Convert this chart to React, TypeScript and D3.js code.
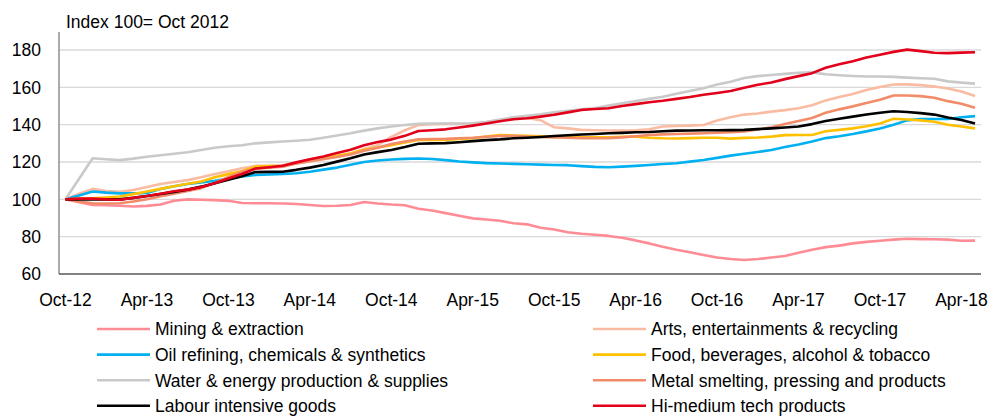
import React from "react";
import * as d3 from "d3";

const tickLabels = ["Oct-12","Apr-13","Oct-13","Apr-14","Oct-14","Apr-15","Oct-15","Apr-16","Oct-16","Apr-17","Oct-17","Apr-18"];
const yTicks = [60, 80, 100, 120, 140, 160, 180];

const mining = [100,98.5,97,96.8,96.6,96.2,96.5,97.2,99.2,100,99.8,99.6,99.2,98,97.9,97.9,97.8,97.5,97,96.4,96.6,97,98.6,97.8,97.2,96.8,95,94,92.6,91.2,89.8,89.2,88.5,87.2,86.6,84.8,83.8,82.4,81.6,81,80.4,79.4,78,76.4,74.6,73,71.6,70.2,68.8,68,67.5,68,68.8,69.6,71.4,73,74.4,75.2,76.4,77.2,77.8,78.4,78.9,78.7,78.6,78.4,77.8,77.9];
const arts = [100,103,105.6,104.5,104,105,106.6,108.2,109.3,110.3,111.8,113.6,115,116.6,117.9,117.9,118,119.2,120.4,121.5,123,124.6,127,129,133.4,137,139.8,140.2,140.4,140.4,140.6,141.4,142.6,143.8,143.6,142.4,138.6,138,137.2,137,136.9,136.8,137,137.5,139,139.3,139.5,139.8,142.2,144,145.4,146,147,147.8,148.8,150.4,153,154.8,156.4,158.6,160.2,161.5,161.6,161.2,160.4,159.4,157.8,155.4];
const oil = [100,102,104.2,103.6,103.2,103.2,103.4,105.5,107,108.2,109,110,111.2,112.2,113,113.3,113.6,114,114.8,115.9,117,118.5,120,120.8,121.3,121.7,121.9,121.6,121,120.3,119.8,119.4,119.2,119,118.8,118.6,118.4,118.3,117.8,117.4,117.2,117.5,117.9,118.4,118.9,119.3,120.2,121.1,122.2,123.4,124.4,125.4,126.4,128,129.4,131,132.8,133.8,135,136.4,138,140,142.3,143,143,143,144,144.6];
const food = [100,100.3,100.5,101,101.5,102.8,104.2,105.6,107,108.3,109.6,111.8,113.5,115,117.4,117.8,118,119.5,120.8,122,123.3,124.6,126.6,127.8,129,130.4,131.8,131.8,131.8,132.3,132.7,133.6,134.5,134.2,134,133.8,133.6,133.4,133.2,133.2,133.2,133.5,133.6,133,132.7,132.6,132.8,133,133,132.5,132.9,133.1,133.6,134.4,134.5,134.5,136.5,137.2,138,139.2,140.6,143.2,142.8,142.3,141.6,140,139,138];
const water = [100,111,122,121.5,121,121.8,122.8,123.6,124.4,125.2,126.4,127.6,128.4,129,130,130.5,131,131.4,131.9,133,134.2,135.4,136.8,138,139,139.8,140.4,140.6,140.6,140.6,140.7,141.4,142.6,144,144.8,145.6,146.6,147.4,148.2,148.8,150.2,151.4,152.6,153.8,155,156.6,158,159.5,161.5,163,165,166,166.6,167.2,167.8,168,167,166.5,166.1,165.8,165.8,165.6,165.2,164.9,164.6,163.2,162.5,162];
const metal = [100,98.8,97.9,97.8,97.9,98.8,100,101.6,103,104.5,106,108.8,112,114.8,116.4,117,117.5,119.2,120.4,121.6,122.7,124,126,127.6,129.6,131,132.2,132.3,132.4,132.7,133,133.5,133.9,134,133.6,133.4,133.2,133,132.8,132.7,132.8,133.2,133.8,134.5,134.8,135,135.2,135.4,135.7,136,136.4,137.4,138.6,140.4,142,143.6,146.4,148.2,149.8,151.6,153.4,155.6,155.6,155.3,154.4,152.6,151.2,149];
const labour = [100,100,100,100,100,100.8,101.8,102.9,104,105.2,106.8,108.6,110.5,112.4,114.6,114.7,114.8,115.8,117,118.4,120.2,122,124,125.3,126.4,128,129.8,130,130.1,130.6,131.2,131.7,132.1,132.7,133,133.4,133.9,134.3,134.7,135,135.4,135.6,135.9,136.1,136.5,136.8,136.9,137,137,137.1,137.2,137.6,138,138.5,139,140.3,142,143.2,144.3,145.4,146.4,147.2,146.8,146.2,145.4,143.8,142.5,140.6];
const hitech = [100,100.4,100.4,100,99.8,100.8,101.8,103,104.3,105.2,106.6,108.6,111.2,113.6,116.5,117.2,118,119.8,121.5,123,124.8,126.6,129,130.7,132,134,136.6,137,137.5,138.5,139.5,140.6,141.8,142.9,143.4,144.3,145.3,146.6,147.9,148.4,148.8,150,151,152,152.8,153.8,154.8,156,157,158,159.8,161.4,162.6,164.4,166,167.6,170.5,172.4,174,176,177.5,179,180.2,179.4,178.5,178.3,178.6,178.8];

const seriesNames = [
  "Mining & extraction",
  "Arts, entertainments & recycling",
  "Oil refining, chemicals & synthetics",
  "Food, beverages, alcohol & tobacco",
  "Water & energy production & supplies",
  "Metal smelting, pressing and products",
  "Labour intensive goods",
  "Hi-medium tech products",
];
const seriesColors = ["#FF8C95", "#F9BBA2", "#00B0F0", "#FFC000", "#C9C9C9", "#F28B68", "#000000", "#E2001A"];
const seriesData = [mining, arts, oil, food, water, metal, labour, hitech];

const FONT = "'Liberation Sans', Arial, sans-serif";
const FS = 17.5;

export default function App() {
  const W = 1003, H = 417;
  const x = d3.scaleLinear().domain([0, 67]).range([65.5, 975]);
  const y = d3.scaleLinear().domain([60, 180]).range([274, 50]);
  const line = d3.line<number>().x((_, i) => x(i)).y((v) => y(v));
  const plotLeft = 59, plotRight = 981;

  return (
    <svg width={W} height={H} style={{ position: "absolute", left: 0, top: 0, background: "#fff" }} fontFamily={FONT}>
      <rect width={W} height={H} fill="#fff" />
      {yTicks.filter((t) => t !== 60).map((t) => (
        <line key={t} x1={plotLeft} x2={plotRight} y1={y(t)} y2={y(t)} stroke="#D9D9D9" strokeWidth={1.3} />
      ))}
      {yTicks.map((t) => (
        <text key={t} x={41} y={y(t)} dy="0.36em" textAnchor="end" fontSize={FS} fill="#000">{t}</text>
      ))}
      <line x1={plotLeft} x2={plotLeft} y1={32} y2={y(60)} stroke="#7F7F7F" strokeWidth={1.3} />
      <line x1={plotLeft} x2={plotRight} y1={y(60)} y2={y(60)} stroke="#595959" strokeWidth={1.5} />
      <text x={66} y={28} fontSize={FS} fill="#000">Index 100= Oct 2012</text>
      {tickLabels.map((lab, k) => (
        <text key={lab} x={x(k * 6)} y={306} textAnchor="middle" fontSize={FS} fill="#000">{lab}</text>
      ))}
      {seriesData.map((d, k) => (
        <path key={seriesNames[k]} d={line(d) || ""} fill="none" stroke={seriesColors[k]} strokeWidth={2.6} strokeLinejoin="round" />
      ))}
      {seriesNames.map((name, k) => {
        const col = k % 2;
        const row = Math.floor(k / 2);
        const lx = col === 0 ? 97 : 593;
        const ly = 329 + row * 25.6;
        return (
          <g key={name}>
            <line x1={lx} x2={lx + 53} y1={ly} y2={ly} stroke={seriesColors[k]} strokeWidth={2.6} />
            <text x={lx + 58} y={ly} dy="0.36em" fontSize={FS} fill="#000">{name}</text>
          </g>
        );
      })}
    </svg>
  );
}
